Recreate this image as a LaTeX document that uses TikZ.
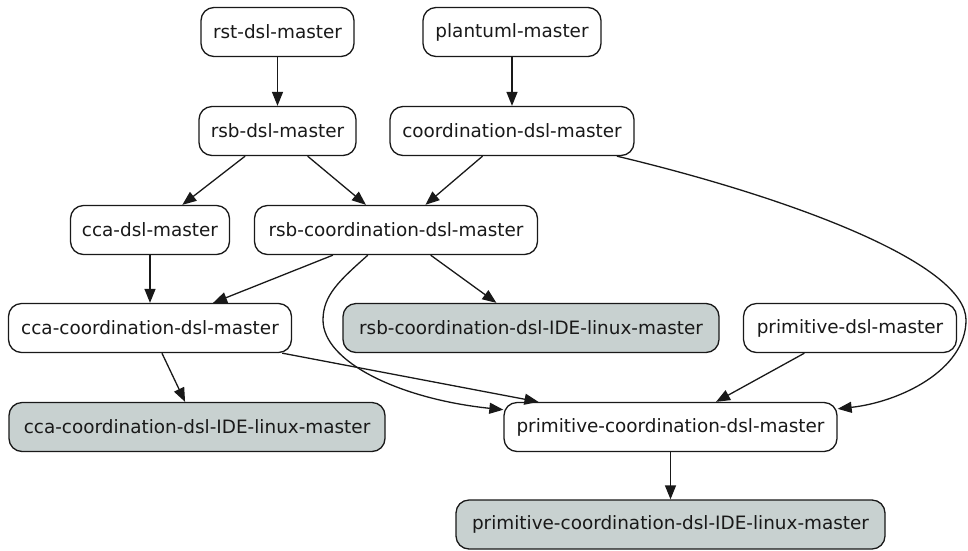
\documentclass[tikz,border=0pt]{standalone}
\usepackage{fontspec}
\setmainfont{DejaVu Sans}
\usetikzlibrary{arrows.meta}
\definecolor{boxgray}{RGB}{200,209,208}
\definecolor{ink}{RGB}{25,25,25}
\begin{document}
\begin{tikzpicture}[x=1pt,y=-1pt,
  box/.style={draw=ink,line width=1.3pt,rounded corners=13pt,minimum height=49pt,
    inner sep=0pt,fill=white,font=\fontsize{18.4}{22}\selectfont,text=ink},
  idebox/.style={box,fill=boxgray},
  edge/.style={draw=ink,line width=1.3pt,-{Triangle[length=14pt,width=11pt]}}]
\useasboundingbox (0,0) rectangle (968,550);
\node[box,minimum width=153pt] (rst) at (277.5,32) {rst-dsl-master};
\node[box,minimum width=178pt] (plant) at (512,32) {plantuml-master};
\node[box,minimum width=157pt] (rsb) at (277.5,131) {rsb-dsl-master};
\node[box,minimum width=244pt] (coord) at (512,131) {coordination-dsl-master};
\node[box,minimum width=159pt] (ccadsl) at (150,230) {cca-dsl-master};
\node[box,minimum width=283pt] (rsbcoord) at (396,230) {rsb-coordination-dsl-master};
\node[box,minimum width=283pt] (ccacoord) at (150,328) {cca-coordination-dsl-master};
\node[idebox,minimum width=376pt] (rsbide) at (531,328) {rsb-coordination-dsl-IDE-linux-master};
\node[box,minimum width=213pt] (primdsl) at (850,328) {primitive-dsl-master};
\node[idebox,minimum width=376pt] (ccaide) at (197,427) {cca-coordination-dsl-IDE-linux-master};
\node[box,minimum width=333pt] (primcoord) at (670.5,427) {primitive-coordination-dsl-master};
\node[idebox,minimum width=429pt] (primide) at (670.5,524.5) {primitive-coordination-dsl-IDE-linux-master};

\draw[edge] (rst) -- (rsb);
\draw[edge] (plant) -- (coord);
\draw[edge] (rsb) -- (ccadsl);
\draw[edge] (rsb) -- (rsbcoord);
\draw[edge] (coord) -- (rsbcoord);
\draw[edge] (coord) .. controls (800,200) and (966,265) .. (966,320)
  .. controls (966,370) and (900,402) .. (primcoord);
\draw[edge] (ccadsl) -- (ccacoord);
\draw[edge] (rsbcoord) -- (ccacoord);
\draw[edge] (rsbcoord) -- (rsbide);
\draw[edge] (rsbcoord) .. controls (340,280) and (323,295) .. (323,320)
  .. controls (323,362) and (400,399) .. (primcoord);
\draw[edge] (ccacoord) -- (primcoord);
\draw[edge] (primdsl) -- (primcoord);
\draw[edge] (ccacoord) -- (ccaide);
\draw[edge] (primcoord) -- (primide);
\end{tikzpicture}
\end{document}
